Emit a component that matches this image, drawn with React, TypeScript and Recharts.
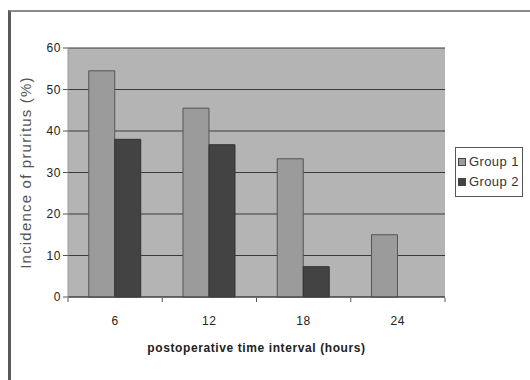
import React from 'react';
import { BarChart, Bar, XAxis, YAxis, CartesianGrid, Legend } from 'recharts';

const categories = ['6', '12', '18', '24'];
const group1 = [54.5, 45.5, 33.3, 15];
const group2 = [38, 36.7, 7.3, 0];
const yTicks = [0, 10, 20, 30, 40, 50, 60];
const seriesNames = ['Group 1', 'Group 2'];
const seriesColors = ['#9b9b9b', '#434343'];

const data = categories.map((c, i) => ({ t: c, g1: group1[i], g2: group2[i] === 0 ? null : group2[i] }));

const FONT = '"Liberation Sans", Arial, sans-serif';

const XTick = (props: any) => {
  const { x, y, payload, index } = props;
  const off = payload.offset || 0;
  const isLast = index === categories.length - 1;
  return (
    <g>
      <line x1={x - off} x2={x - off} y1={y - 7} y2={y - 3} stroke="#555" />
      {isLast && <line x1={x + off} x2={x + off} y1={y - 7} y2={y - 3} stroke="#555" />}
      <text x={x} y={y + 20} textAnchor="middle" fontSize={12} letterSpacing={0.6} fill="#222" fontFamily={FONT}>
        {payload.value}
      </text>
    </g>
  );
};

const LegendContent = () => (
  <div
    style={{
      border: '1px solid #555',
      padding: '4px 2px',
      background: '#fff',
      fontFamily: FONT,
      fontSize: 13,
      letterSpacing: 0.4,
      color: '#333',
      lineHeight: '20px',
      boxSizing: 'border-box',
      height: 50,
    }}
  >
    {seriesNames.map((n, i) => (
      <div key={n} style={{ display: 'flex', alignItems: 'center', whiteSpace: 'nowrap' }}>
        <span
          style={{
            display: 'inline-block',
            width: 6,
            height: 6,
            background: seriesColors[i],
            border: '1px solid #444',
            marginRight: 3,
          }}
        />
        {n}
      </div>
    ))}
  </div>
);

export default function App() {
  return (
    <div style={{ position: 'absolute', left: 0, top: 0, width: 530, height: 380, background: '#fff' }}>
      <div
        style={{
          position: 'absolute',
          left: 8,
          top: 10,
          width: 522,
          height: 370,
          borderTop: '2px solid #8a8a8a',
          borderLeft: '3px solid #5a5a5a',
          boxSizing: 'border-box',
        }}
      />
      <div style={{ position: 'absolute', left: 0, top: 0 }}>
        <BarChart
          width={530}
          height={380}
          data={data}
          margin={{ top: 48, right: 17, bottom: 28, left: 0 }}
          barCategoryGap="22%"
          barGap={0}
        >
          <CartesianGrid vertical={false} fill="#b4b4b4" stroke="#3a3a3a" strokeWidth={1.2} />
          <XAxis
            dataKey="t"
            height={55}
            tickLine={false}
            axisLine={{ stroke: '#444' }}
            tick={<XTick />}
            interval={0}
            label={{
              value: 'postoperative time interval (hours)',
              position: 'insideBottom',
              offset: 0,
              style: { fontFamily: FONT, fontSize: 12, letterSpacing: 0.6, fontWeight: 'bold', fill: '#222' },
            }}
          />
          <YAxis
            width={68}
            domain={[0, 60]}
            ticks={yTicks}
            interval={0}
            tickSize={5}
            tickLine={{ stroke: '#555' }}
            axisLine={{ stroke: '#999' }}
            tick={{ fontSize: 12, fill: '#222', fontFamily: FONT, letterSpacing: 0.6 }}
            label={{
              value: 'Incidence of pruritus (%)',
              angle: -90,
              position: 'insideLeft',
              offset: 26,
              style: { textAnchor: 'middle', fontFamily: FONT, fontSize: 15, letterSpacing: 1.2, fill: '#555' },
            }}
          />
          <Legend
            layout="vertical"
            align="right"
            verticalAlign="top"
            content={<LegendContent />}
            wrapperStyle={{ left: 455, top: 147, width: 68 }}
          />
          <Bar dataKey="g1" name={seriesNames[0]} fill={seriesColors[0]} stroke="#555" isAnimationActive={false} />
          <Bar dataKey="g2" name={seriesNames[1]} fill={seriesColors[1]} stroke="#333" isAnimationActive={false} />
        </BarChart>
      </div>
    </div>
  );
}
